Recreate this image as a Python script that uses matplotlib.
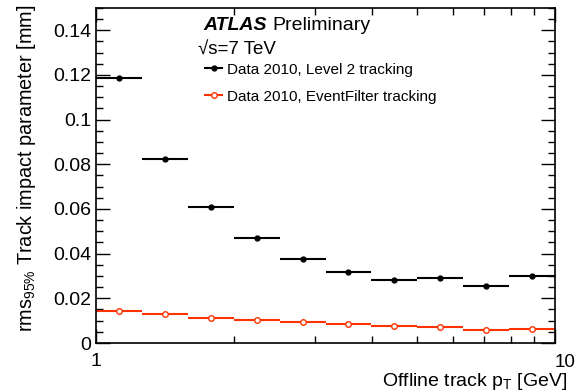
import numpy as np
import matplotlib
matplotlib.use("Agg")
import matplotlib.pyplot as plt
from matplotlib.lines import Line2D
from matplotlib.ticker import MultipleLocator, FixedLocator, NullFormatter

plt.rcParams['font.family'] = ['Liberation Sans', 'DejaVu Sans']
plt.rcParams['mathtext.fontset'] = 'custom'
plt.rcParams['mathtext.rm'] = 'Liberation Sans'
plt.rcParams['mathtext.it'] = 'Liberation Sans:italic'

# log-spaced pT bins, 1 to 10 GeV
bin_edges = [1.0, 1.259, 1.585, 1.995, 2.512, 3.162, 3.981, 5.012, 6.310, 7.943, 10.0]
l2_rms = [0.1187, 0.0823, 0.0608, 0.0470, 0.0377, 0.0318, 0.0284, 0.0290, 0.0256, 0.0299]
l2_err = [0.0006, 0.0005, 0.0004, 0.0003, 0.0003, 0.0003, 0.0003, 0.0004, 0.0005, 0.0008]
ef_rms = [0.0142, 0.0128, 0.0114, 0.0103, 0.0094, 0.0086, 0.0077, 0.0070, 0.0060, 0.0064]

red = '#ff3300'

edges = np.array(bin_edges)
centers = np.sqrt(edges[:-1] * edges[1:])
xlo = centers - edges[:-1]
xhi = edges[1:] - centers

fig = plt.figure(figsize=(5.8, 3.92), dpi=100)
ax = fig.add_axes([0.1655, 0.125, 0.7915, 0.8546])

ax.errorbar(centers, ef_rms, xerr=[xlo, xhi], fmt='o', color=red, mfc='white',
            mec=red, ms=4, mew=1.0, elinewidth=1.5, capsize=0)
ax.errorbar(centers, l2_rms, xerr=[xlo, xhi], yerr=l2_err, fmt='o', color='black',
            ms=3.5, elinewidth=1.5, capsize=0)

ax.set_xscale('log')
ax.set_xlim(1, 10)
ax.set_ylim(0, 0.15)

ax.xaxis.set_major_locator(FixedLocator([1, 10]))
ax.xaxis.set_minor_locator(FixedLocator([2, 3, 4, 5, 6, 7, 8, 9]))
ax.xaxis.set_minor_formatter(NullFormatter())
ax.set_xticklabels(['1', ''])
ax.yaxis.set_minor_locator(MultipleLocator(0.005))
ax.set_yticks([0, 0.02, 0.04, 0.06, 0.08, 0.1, 0.12, 0.14])
ax.set_yticklabels(['0', '0.02', '0.04', '0.06', '0.08', '0.1', '0.12', '0.14'])

ax.tick_params(which='both', direction='in', top=True, right=True, labelsize=14)
ax.tick_params(which='major', length=10, width=1)
ax.tick_params(which='minor', length=5, width=1)
ax.tick_params(axis='x', which='major', pad=7)
for s in ax.spines.values():
    s.set_linewidth(1.2)

# ROOT-style "10" label sits just right of the axis end
ax.text(1.0, -0.033, '10', transform=ax.transAxes, ha='left', va='top', fontsize=13.5)

fig.text(0.045, 0.987, r'rms$_{95\%}$ Track impact parameter [mm]', rotation=90,
         ha='center', va='top', fontsize=14.3)
fig.text(0.978, 0.0, r'Offline track p$_{\mathrm{T}}$ [GeV]', ha='right', va='bottom',
         fontsize=14)

fig.text(0.35, 0.935, 'ATLAS', fontsize=14, fontweight='bold', style='italic', va='center')
fig.text(0.47, 0.935, 'Preliminary', fontsize=14, va='center')
fig.text(0.341, 0.872, '\u221as=7 TeV', fontsize=13.5, va='center')

handles = [Line2D([], [], color='black', marker='o', ms=3.5, lw=1.5),
           Line2D([], [], color=red, marker='o', mfc='white', mec=red, ms=4, lw=1.5)]
ax.legend(handles, ['Data 2010, Level 2 tracking', 'Data 2010, EventFilter tracking'],
          loc='upper left', bbox_to_anchor=(0.225, 0.855), frameon=False, fontsize=11,
          handlelength=1.1, handletextpad=0.3, labelspacing=0.85, borderaxespad=0)

fig.savefig('out.png', dpi=100)
